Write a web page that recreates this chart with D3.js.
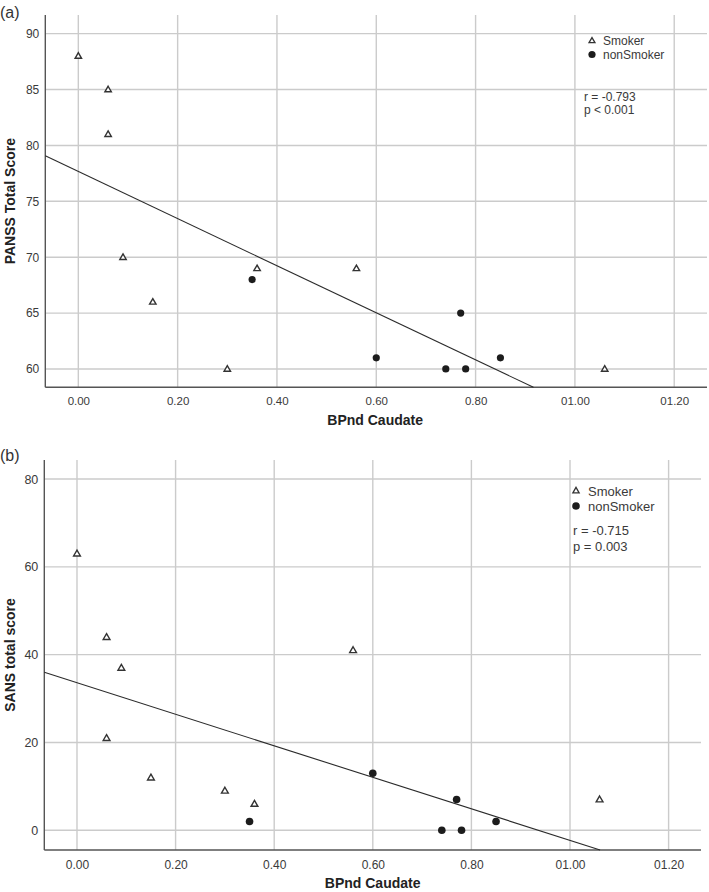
<!DOCTYPE html>
<html><head><meta charset="utf-8">
<script src="https://cdn.jsdelivr.net/npm/d3@7"></script>
<style>
html,body{margin:0;padding:0;background:#fff;}
svg{display:block;font-family:"Liberation Sans",Arial,sans-serif;}
</style></head>
<body>
<svg id="chart" width="709" height="892"></svg>
<script>
// ---- data ----
const xTicks = [0, 0.2, 0.4, 0.6, 0.8, 1.0, 1.2];
const xTickLabels = ["0.00", "0.20", "0.40", "0.60", "0.80", "01.00", "01.20"];
const panssTicks = [60, 65, 70, 75, 80, 85, 90];
const sansTicks = [0, 20, 40, 60, 80];

const smokerBP = [0.00, 0.06, 0.06, 0.09, 0.15, 0.30, 0.36, 0.56, 1.06];
const smokerPANSS = [88, 85, 81, 70, 66, 60, 69, 69, 60];
const smokerBP_b = [0.00, 0.06, 0.09, 0.06, 0.15, 0.30, 0.36, 0.56, 1.06];
const smokerSANS = [63, 44, 37, 21, 12, 9, 6, 41, 7];

const nonSmokerBP = [0.35, 0.60, 0.74, 0.77, 0.78, 0.85];
const nonSmokerPANSS = [68, 61, 60, 65, 60, 61];
const nonSmokerSANS = [2, 13, 0, 7, 0, 2];

const fitPANSS = [77.67, -21.07]; // intercept, slope
const fitSANS = [33.6, -35.9];

const statsA = ["r = -0.793", "p < 0.001"];
const statsB = ["r = -0.715", "p = 0.003"];
const legendLabels = ["Smoker", "nonSmoker"];

// ---- drawing ----
const svg = d3.select("#chart");
const gridColor = "#cbcbcb";
const axisColor = "#555";
const textColor = "#3a3a3a";

function drawPanel(cfg) {
  const g = svg.append("g");
  const x = d3.scaleLinear().domain(cfg.xDomain).range([cfg.left, cfg.right]);
  const y = d3.scaleLinear().domain(cfg.yDomain).range([cfg.bottom, cfg.top]);

  // grid
  g.append("g").selectAll("line").data(xTicks).join("line")
    .attr("x1", d => x(d)).attr("x2", d => x(d))
    .attr("y1", cfg.top).attr("y2", cfg.bottom)
    .attr("stroke", gridColor).attr("stroke-width", 1.4);
  g.append("g").selectAll("line").data(cfg.yTicks).join("line")
    .attr("x1", cfg.left).attr("x2", cfg.right)
    .attr("y1", d => y(d)).attr("y2", d => y(d))
    .attr("stroke", gridColor).attr("stroke-width", 1.4);

  // axes
  const xAxis = d3.axisBottom(x).tickValues(xTicks).tickSize(0).tickPadding(cfg.xPad)
    .tickFormat((d, i) => xTickLabels[i]);
  const ax = g.append("g").attr("transform", `translate(0,${cfg.bottom})`).call(xAxis);
  ax.select(".domain").remove();
  ax.selectAll("text").attr("fill", textColor).style("font-size", cfg.tickFont + "px")
    .style("font-family", "Liberation Sans, Arial, sans-serif");

  const yAxis = d3.axisLeft(y).tickValues(cfg.yTicks).tickSize(0).tickPadding(cfg.yPad);
  const ay = g.append("g").attr("transform", `translate(${cfg.left},0)`).call(yAxis);
  ay.select(".domain").remove();
  ay.selectAll("text").attr("fill", textColor).style("font-size", (cfg.tickFont + 0.5) + "px")
    .style("font-family", "Liberation Sans, Arial, sans-serif");

  g.append("line").attr("x1", cfg.left).attr("x2", cfg.left)
    .attr("y1", cfg.top).attr("y2", cfg.bottom).attr("stroke", axisColor).attr("stroke-width", 1.4);
  g.append("line").attr("x1", cfg.left).attr("x2", cfg.right)
    .attr("y1", cfg.bottom).attr("y2", cfg.bottom).attr("stroke", axisColor).attr("stroke-width", 1.4);

  // regression line, clipped at the lower axis
  const [b0, b1] = cfg.fit;
  const xs = cfg.xDomain[0];
  const xe = Math.min(cfg.xDomain[1], (cfg.yDomain[0] - b0) / b1);
  g.append("line")
    .attr("x1", x(xs)).attr("y1", y(b0 + b1 * xs))
    .attr("x2", x(xe)).attr("y2", y(b0 + b1 * xe))
    .attr("stroke", "#2b2b2b").attr("stroke-width", 1.1);

  // markers
  const tri = d3.symbol().type(d3.symbolTriangle).size(cfg.triSize);
  g.append("g").selectAll("path").data(d3.zip(cfg.sx, cfg.sy)).join("path")
    .attr("d", tri)
    .attr("transform", d => `translate(${x(d[0])},${y(d[1]) + 0.4})`)
    .attr("fill", "#fff").attr("stroke", "#333").attr("stroke-width", 1.4);
  g.append("g").selectAll("circle").data(d3.zip(cfg.nx, cfg.ny)).join("circle")
    .attr("cx", d => x(d[0])).attr("cy", d => y(d[1])).attr("r", cfg.circR)
    .attr("fill", "#1c1c1c");

  // legend
  const L = cfg.legend;
  g.append("path").attr("d", d3.symbol().type(d3.symbolTriangle).size(cfg.triSize * 0.85))
    .attr("transform", `translate(${L.mx},${L.y1})`)
    .attr("fill", "#fff").attr("stroke", "#333").attr("stroke-width", 1.3);
  g.append("circle").attr("cx", L.mx).attr("cy", L.y2).attr("r", cfg.circR)
    .attr("fill", "#1c1c1c");
  g.append("text").attr("x", L.tx).attr("y", L.y1).attr("dy", "0.35em")
    .attr("fill", textColor).style("font-size", L.font + "px").text(legendLabels[0]);
  g.append("text").attr("x", L.tx).attr("y", L.y2).attr("dy", "0.35em")
    .attr("fill", textColor).style("font-size", L.font + "px").text(legendLabels[1]);
  cfg.stats.forEach((s, i) => {
    g.append("text").attr("x", L.sx).attr("y", L.s1 + i * L.sGap).attr("dy", "0.35em")
      .attr("fill", textColor).style("font-size", L.sFont + "px").text(s);
  });

  // titles
  g.append("text").attr("x", (cfg.left + cfg.right) / 2 + cfg.xTitleShift).attr("y", cfg.xTitleY)
    .attr("text-anchor", "middle").attr("dy", "0.35em")
    .style("font-size", "14px").style("font-weight", "bold").attr("fill", "#222")
    .text("BPnd Caudate");
  g.append("text")
    .attr("transform", `translate(${cfg.yTitleX},${(cfg.top + cfg.bottom) / 2}) rotate(-90)`)
    .attr("text-anchor", "middle").attr("dy", "0.35em")
    .style("font-size", "14px").style("font-weight", "bold").attr("fill", "#222")
    .text(cfg.yTitle);
  g.append("text").attr("x", 0).attr("y", cfg.tagY).attr("dy", "0.35em")
    .style("font-size", "16px").attr("fill", "#333").text(cfg.tag);
}

drawPanel({
  left: 45.3, right: 707, top: 15, bottom: 387.3,
  xDomain: [-0.0665, 1.266], yDomain: [58.36, 91.67],
  yTicks: panssTicks, xPad: 10, yPad: 6, tickFont: 11.5,
  sx: smokerBP, sy: smokerPANSS, nx: nonSmokerBP, ny: nonSmokerPANSS,
  fit: fitPANSS, triSize: 18, circR: 3.6,
  legend: { mx: 592, tx: 603, y1: 41, y2: 54.5, font: 12, sx: 584, s1: 96.7, sGap: 12.8, sFont: 12 },
  stats: statsA,
  xTitleY: 420, xTitleShift: -1, yTitleX: 10, yTitle: "PANSS Total Score",
  tag: "(a)", tagY: 12
});

drawPanel({
  left: 44.3, right: 701, top: 460, bottom: 850,
  xDomain: [-0.0663, 1.2657], yDomain: [-4.49, 84.33],
  yTicks: sansTicks, xPad: 10, yPad: 6, tickFont: 12,
  sx: smokerBP_b, sy: smokerSANS, nx: nonSmokerBP, ny: nonSmokerSANS,
  fit: fitSANS, triSize: 20, circR: 3.8,
  legend: { mx: 576, tx: 588, y1: 491, y2: 506, font: 13, sx: 573, s1: 530.7, sGap: 16, sFont: 13 },
  stats: statsB,
  xTitleY: 883, xTitleShift: 0, yTitleX: 10, yTitle: "SANS total score",
  tag: "(b)", tagY: 455
});
</script>
</body></html>
